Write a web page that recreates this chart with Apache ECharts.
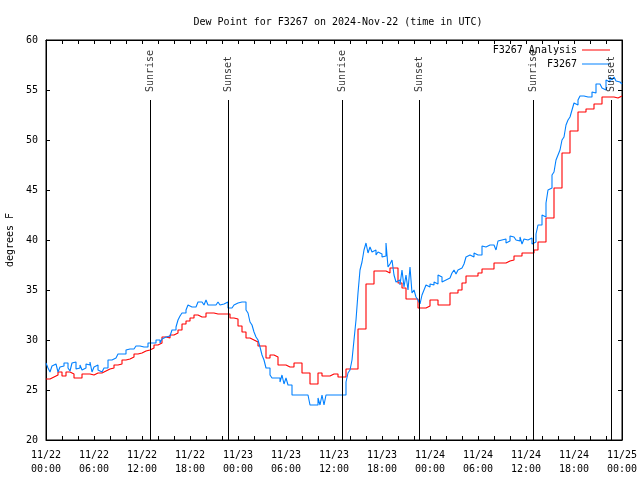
<!DOCTYPE html>
<html><head><meta charset="utf-8">
<script src="https://cdn.jsdelivr.net/npm/echarts@6/dist/echarts.min.js"></script>
<style>html,body{margin:0;padding:0;background:#fff}#c{width:640px;height:480px}</style>
</head><body><div id="c"></div>
<script>
const xTickLabels = ['11/22\n00:00','11/22\n06:00','11/22\n12:00','11/22\n18:00','11/23\n00:00','11/23\n06:00','11/23\n12:00','11/23\n18:00','11/24\n00:00','11/24\n06:00','11/24\n12:00','11/24\n18:00','11/25\n00:00'];
const analysisStepHours = 0.5;
const analysisValues = [
26.1,26.3, 26.5,26.8, 26.4,26.8, 26.6,26.2, 26.2,26.6, 26.6,26.5,
26.7,26.7, 26.9,27.1, 27.2,27.5, 27.6,28.0, 28.1,28.3, 28.6,28.7,
28.9,29.0, 29.2,29.5, 29.7,30.3, 30.2,30.5, 30.7,31.0, 31.6,31.9,
32.2,32.5, 32.3,32.3, 32.7,32.7, 32.6,32.6, 32.6,32.6, 32.2,32.1,
31.4,30.8, 30.2,30.0, 29.8,29.4, 29.4,28.2, 28.5,28.3, 27.5,27.5,
27.3,27.3, 27.7,27.7, 26.7,26.7, 25.6,25.6, 26.7,26.4, 26.4,26.6,
26.6,26.3, 26.3,27.1, 27.1,27.1, 31.1,31.1, 35.6,35.6, 36.9,36.9,
36.9,36.7, 37.2,37.2, 35.7,35.2, 34.1,34.1, 34.1,33.2, 33.2,33.4,
34.0,34.0, 33.5,33.5, 33.5,34.7, 34.7,35.0, 35.7,36.4, 36.4,36.4,
36.7,37.1, 37.1,37.1, 37.7,37.7, 37.7,37.9, 38.0,38.4, 38.4,38.7,
38.7,38.7, 39.0,39.8, 39.8,42.2, 42.2,45.2, 45.2,48.7, 48.7,50.9,
50.9,52.8, 52.8,53.1, 53.1,53.6, 53.6,54.3, 54.3,54.3, 54.2,54.4,
54.4];
const obsStepHours = 0.25;
const obsValues = [
27.7,27.2,26.8,27.4, 27.6,27.6,26.8,27.3, 27.4,27.7,27.7,27.2, 26.9,27.7,27.8,27.1, 27.2,27.5,27.0,27.2, 27.6,27.5,27.8,26.8,
27.3,27.5,27.0,26.8, 26.8,27.2,27.2,28.0, 28.0,28.2,28.2,28.2, 28.6,28.6,28.6,28.6, 29.0,29.1,29.1,29.1, 29.1,29.4,29.4,29.3,
29.3,29.3,29.3,29.7, 29.7,29.7,29.7,30.0, 30.0,29.7,30.1,30.3, 30.3,30.4,30.5,31.0, 31.0,31.3,32.0,32.4, 32.7,32.7,33.0,33.5,
33.3,33.5,33.3,33.4, 33.8,33.8,33.6,33.5, 34.0,33.5,33.5,33.6, 33.5,33.6,33.8,33.5, 33.6,33.5,33.8,33.2, 33.2,33.4,33.5,33.7,
33.7,33.8,34.0,33.8, 33.0,32.7,31.8,31.5, 30.8,30.3,30.0,29.3, 28.5,28.0,27.2,27.2, 26.5,26.2,26.2,26.2, 26.2,25.8,26.5,25.6,
26.2,25.5,25.5,24.5, 24.5,24.5,24.5,24.5, 24.5,24.5,24.5,24.5, 23.5,23.5,23.5,23.5, 24.2,23.5,24.5,23.5, 24.5,24.5,24.5,24.5,
24.5,24.5,24.5,24.5, 24.5,24.5,25.8,26.7, 27.0,28.0,30.0,32.0, 34.7,37.0,37.8,39.0, 39.7,38.7,39.3,38.8, 39.0,38.5,38.8,38.6,
38.3,38.4,39.7,37.3, 37.6,38.0,36.5,35.8, 36.0,35.5,37.0,35.3, 36.5,35.0,37.3,34.7, 35.0,34.3,34.0,33.6, 34.5,35.0,35.5,35.3,
35.6,35.5,35.8,35.6, 36.5,36.3,35.8,36.0, 36.0,36.2,36.2,36.7, 37.0,36.6,37.0,37.2, 37.0,37.6,38.3,38.5, 38.5,38.3,38.7,38.5,
38.6,38.5,39.4,39.3, 39.4,39.5,39.7,39.5, 39.6,39.0,39.9,40.0, 39.8,40.1,39.7,39.9, 40.4,40.3,40.5,40.0, 39.9,40.3,39.6,40.1,
40.0,39.8,40.2,39.6, 39.8,40.6,41.5,41.5, 42.5,42.3,43.7,45.0, 45.2,46.5,46.8,48.0, 48.5,49.0,50.0,50.3, 51.5,52.0,52.3,53.0,
53.7,53.5,54.0,54.4, 54.4,54.2,54.3,54.1, 54.3,54.8,54.7,55.6, 55.6,55.4,55.2,55.0, 56.0,55.8,56.3,56.0, 56.3,55.9,55.8,55.6,
55.8];
const sunTimes = [13.08, 22.8, 37.04, 46.67, 60.92, 70.66];
const sunLabels = ['Sunrise','Sunset','Sunrise','Sunset','Sunrise','Sunset'];
const sunLineBottom = 20, sunLineTop = 54;

const FONT = 'DejaVu Sans Mono';
const chart = echarts.init(document.getElementById('c'), null, {renderer:'canvas'});
const analysisData = analysisValues.map((v,i)=>[i*analysisStepHours, v]);
const obsData = obsValues.map((v,i)=>[i*obsStepHours, v]);
const txt = {fontFamily: FONT, fontSize: 10, color: '#000'};
const axisCommon = {
  axisLine: {show: true, onZero: false, lineStyle: {color: '#000', width: 1}},
  axisTick: {show: true, inside: true, length: 4, lineStyle: {color: '#000'}},
  splitLine: {show: false}
};
chart.setOption({
  animation: false,
  backgroundColor: '#fff',
  title: {text: 'Dew Point for F3267 on 2024-Nov-22 (time in UTC)', left: 333, textAlign: 'center', top: 12,
    textStyle: {fontFamily: FONT, fontSize: 10, fontWeight: 'normal', color: '#000'}},
  legend: {data: ['F3267 Analysis','F3267'], orient: 'vertical', right: 25, top: 39, align: 'right',
    icon: 'rect', itemWidth: 28, itemHeight: 1, itemGap: 2, textStyle: Object.assign({lineHeight: 12}, txt), selectedMode: false},
  grid: {left: 46, right: 18, top: 40, bottom: 40, show: true, borderColor: '#000', borderWidth: 1,
    containLabel: false, outerBoundsMode: 'none'},
  xAxis: [
    Object.assign({type: 'value', min: 0, max: 72, interval: 2, position: 'bottom',
      axisLabel: Object.assign({margin: 8, lineHeight: 14, formatter: v => (v % 6 === 0 ? xTickLabels[v/6] : '')}, txt)}, axisCommon),
    Object.assign({type: 'value', min: 0, max: 72, interval: 2, position: 'top', axisLabel: {show: false}}, axisCommon)
  ],
  yAxis: [
    Object.assign({type: 'value', min: 20, max: 60, interval: 5, position: 'left',
      name: 'degrees F', nameLocation: 'middle', nameGap: 30, nameRotate: 90, nameTextStyle: txt,
      axisLabel: Object.assign({margin: 8}, txt)}, axisCommon),
    Object.assign({type: 'value', min: 20, max: 60, interval: 5, position: 'right', axisLabel: {show: false}}, axisCommon)
  ],
  series: [
    {name: 'F3267 Analysis', type: 'line', step: 'end', data: analysisData, showSymbol: false, symbol: 'none',
      lineStyle: {color: '#ff0000', width: 1.1}, itemStyle: {color: '#ff0000'}, z: 3},
    {name: 'F3267', type: 'line', step: 'end', data: obsData, showSymbol: false, symbol: 'none',
      lineStyle: {color: '#0080ff', width: 1.1}, itemStyle: {color: '#0080ff'}, z: 4},
    {name: 'sun', type: 'scatter', symbolSize: 0, silent: true, z: 5,
      data: sunTimes.map((t,i)=>[t, sunLineTop, sunLabels[i]]),
      label: Object.assign({show: true, position: 'top', distance: 8, rotate: 90, align: 'left', verticalAlign: 'middle',
        formatter: p => p.value[2]}, txt),
      markLine: {silent: true, symbol: ['none','none'], label: {show: false},
        lineStyle: {color: '#000', width: 1, type: 'solid'},
        data: sunTimes.map(t => [{coord: [t, sunLineBottom]}, {coord: [t, sunLineTop]}])}
    }
  ]
});
</script></body></html>
